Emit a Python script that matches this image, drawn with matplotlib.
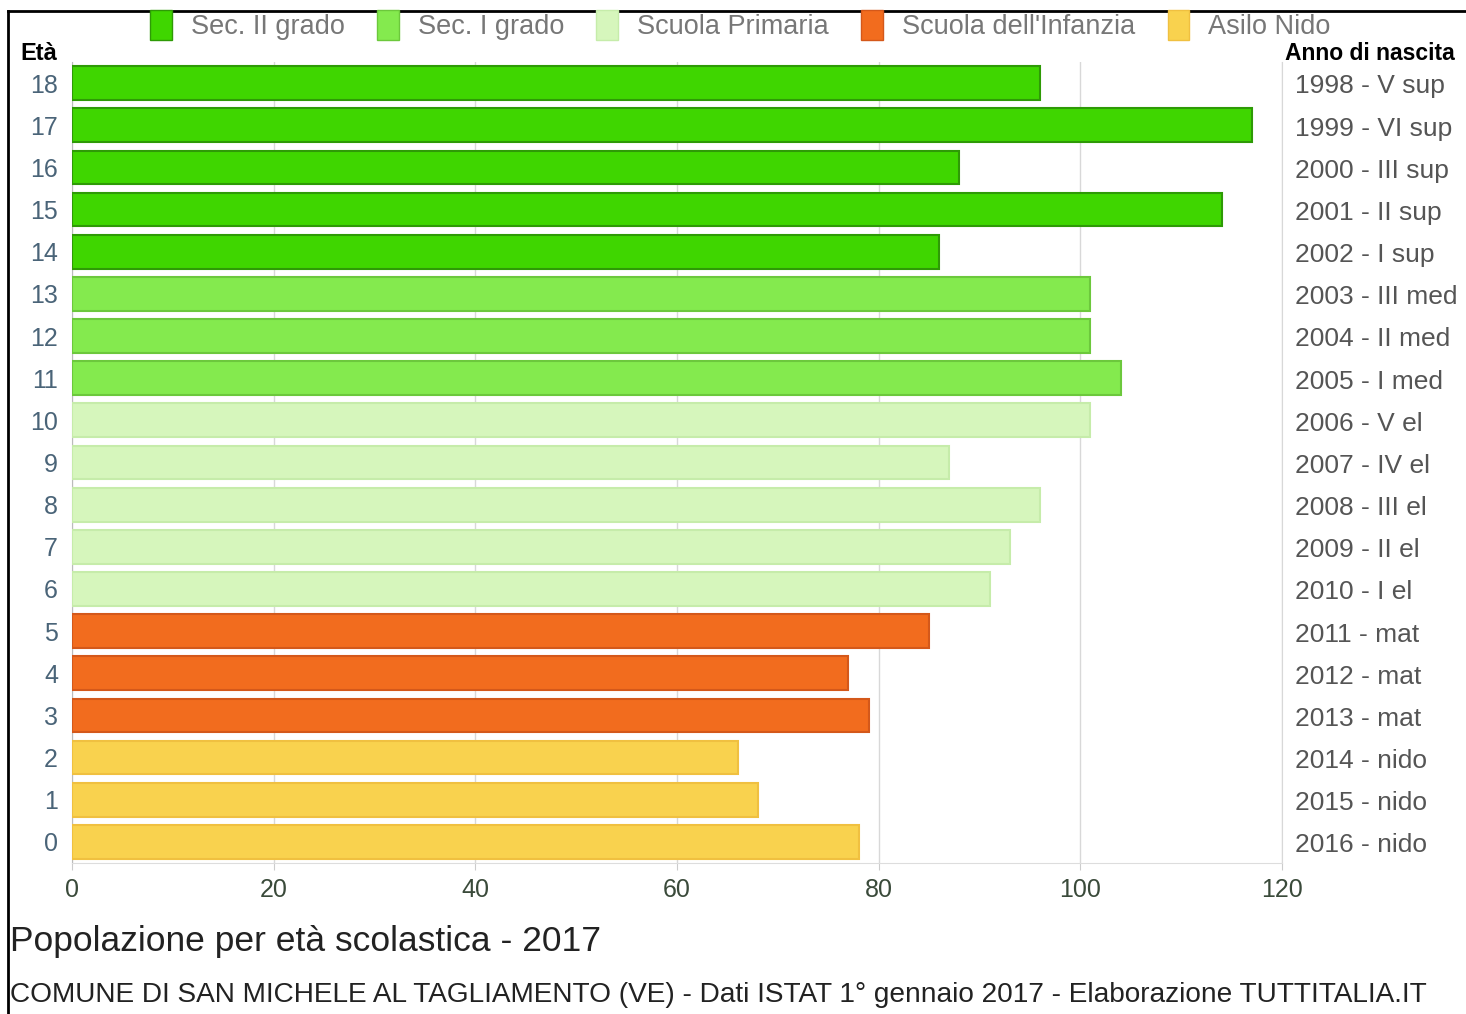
import matplotlib
matplotlib.use("Agg")
from matplotlib import pyplot as plt
from matplotlib.patches import Patch
from matplotlib.lines import Line2D

plt.rcParams['font.family'] = ['Liberation Sans', 'DejaVu Sans']

# ages and population counts (top of chart = 18)
ages = list(range(0, 19))
values = [78, 68, 66, 79, 77, 85, 91, 93, 96, 87, 101, 104, 101, 101, 86, 114, 88, 117, 96]
birth_labels = ['2016 - nido', '2015 - nido', '2014 - nido',
                '2013 - mat', '2012 - mat', '2011 - mat',
                '2010 - I el', "2009 - II el", '2008 - III el', '2007 - IV el', '2006 - V el',
                '2005 - I med', '2004 - II med', '2003 - III med',
                '2002 - I sup', '2001 - II sup', '2000 - III sup', '1999 - VI sup', '1998 - V sup']

groups = ['Sec. II grado', 'Sec. I grado', 'Scuola Primaria', "Scuola dell'Infanzia", 'Asilo Nido']
group_colors = ['#3fd600', '#84ea4e', '#d6f6bc', '#f26c1e', '#f9d24e']
group_edges = ['#2e9a06', '#6cc83c', '#c6ecaa', '#d4581a', '#f0c040']
# group index for each age
age_group = [4, 4, 4, 3, 3, 3, 2, 2, 2, 2, 2, 1, 1, 1, 0, 0, 0, 0, 0]

fig = plt.figure(figsize=(14.66, 10.14), dpi=100)
ax = fig.add_axes([72 / 1466, 1 - 863 / 1014, 1210 / 1466, 801 / 1014])

for a, v, g in zip(ages, values, age_group):
    ax.barh(a, v, height=0.8, color=group_colors[g], edgecolor=group_edges[g],
            linewidth=1.5, zorder=3)

ax.set_xlim(0, 120)
ax.set_ylim(-0.5, 18.5)
ax.set_xticks(range(0, 121, 20))
ax.set_yticks(ages)
ax.set_yticklabels([str(a) for a in ages])
ax.grid(axis='x', color='#d8d8d8', linewidth=1, zorder=0)
ax.spines['top'].set_visible(False)
ax.spines['right'].set_color('#d8d8d8')
ax.spines['left'].set_color('#bbbbbb')
ax.spines['bottom'].set_color('#dddddd')
ax.tick_params(axis='y', length=0, pad=10, labelsize=18, labelcolor='#4a6478')
ax.tick_params(axis='x', length=5, color='#cccccc', pad=6, labelsize=18, labelcolor='#3a4a3a')

for a, lab in zip(ages, birth_labels):
    ax.text(1.0107, a - 0.08, lab, transform=ax.get_yaxis_transform(), va='center', ha='left',
            fontsize=19, color='#555555')

fig.text(20 / 1466, 1 - 53 / 1014, 'Età', fontsize=17, fontweight='bold', va='center', ha='left')
fig.text(1285 / 1466, 1 - 53 / 1014, 'Anno di nascita', fontsize=16.5, fontweight='bold',
         va='center', ha='left')

handles = [Patch(facecolor=c, edgecolor=e) for c, e in zip(group_colors, group_edges)]
fig.legend(handles, groups, loc='center', bbox_to_anchor=(0.505, 1 - 25 / 1014), ncol=5,
           frameon=False, fontsize=19.5, handlelength=0.8, handleheight=1.3,
           columnspacing=1.2, handletextpad=0.7, labelcolor='#777777')

fig.text(10 / 1466, 1 - 942 / 1014, 'Popolazione per età scolastica - 2017', fontsize=25.5,
         va='center', ha='left', color='#222222')
fig.text(10 / 1466, 1 - 995 / 1014,
         'COMUNE DI SAN MICHELE AL TAGLIAMENTO (VE) - Dati ISTAT 1° gennaio 2017 - Elaborazione TUTTITALIA.IT',
         fontsize=20.2, va='center', ha='left', color='#222222')

# outer frame (left and top)
fig.add_artist(Line2D([8 / 1466, 8 / 1466], [0, 1 - 11 / 1014], color='black', linewidth=2))
fig.add_artist(Line2D([8 / 1466, 1], [1 - 11 / 1014, 1 - 11 / 1014], color='black', linewidth=2))

fig.savefig('out.png', dpi=100)
